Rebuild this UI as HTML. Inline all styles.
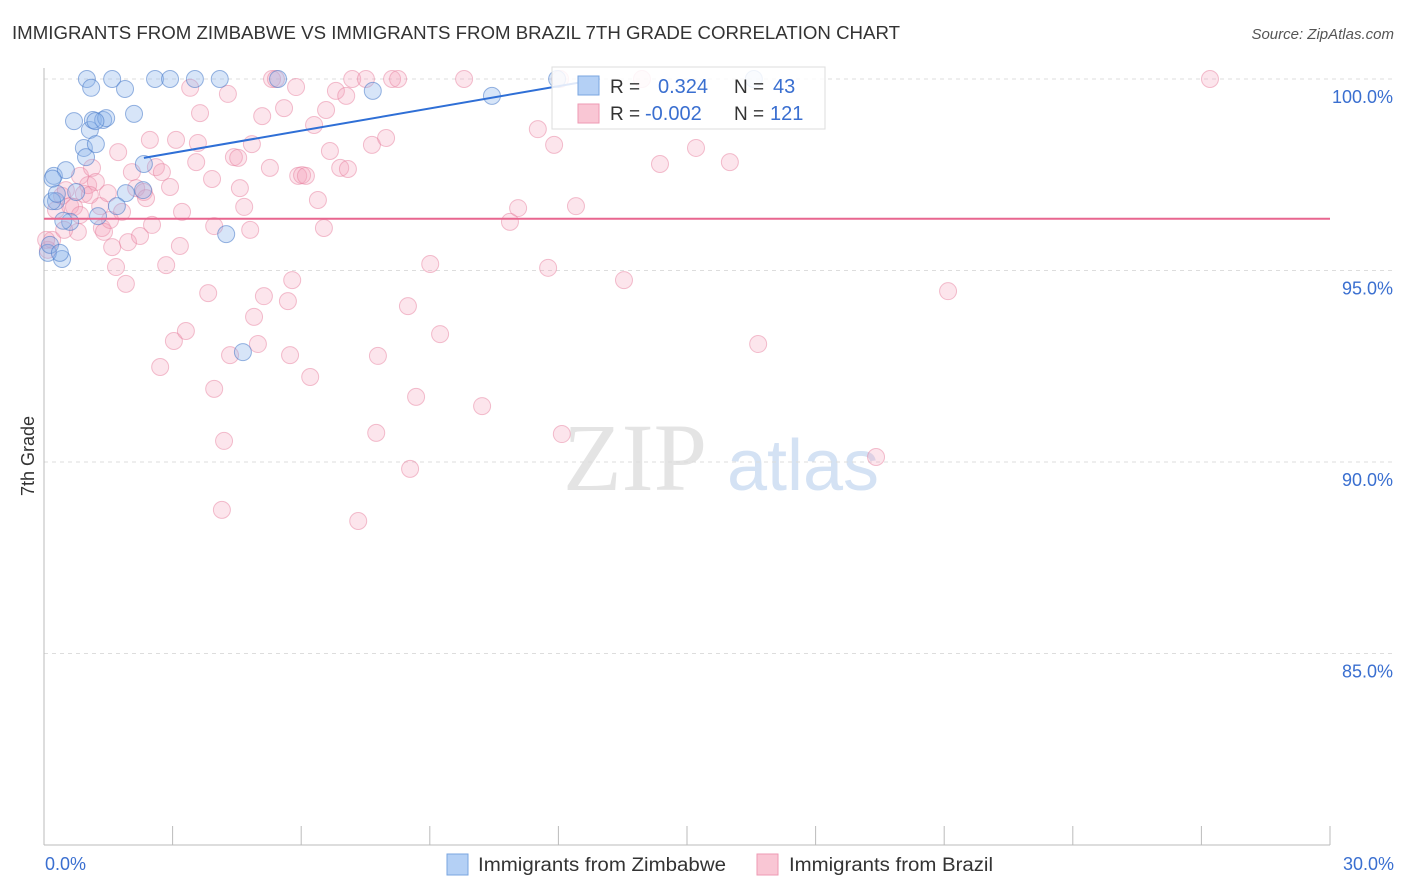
<!DOCTYPE html>
<html><head><meta charset="utf-8"><style>
body{margin:0;background:#fff;font-family:"Liberation Sans",sans-serif;}
svg{display:block}
</style></head><body>
<svg id="chart" width="1406" height="892">
<text x="12" y="39" font-size="18" fill="#333" textLength="888" lengthAdjust="spacingAndGlyphs">IMMIGRANTS FROM ZIMBABWE VS IMMIGRANTS FROM BRAZIL 7TH GRADE CORRELATION CHART</text>
<text x="1394" y="39" font-size="15" fill="#555" font-style="italic" text-anchor="end">Source: ZipAtlas.com</text>
<text x="34" y="456" font-size="18" fill="#333" transform="rotate(-90 34 456)" text-anchor="middle">7th Grade</text>
<g><text x="635" y="490" font-size="96" fill="#e4e4e4" font-family="Liberation Serif,serif" text-anchor="middle">ZIP</text><text x="803" y="490" font-size="72" fill="#d4e2f4" text-anchor="middle">atlas</text></g>
<g id="grid"></g><g id="axes"></g><g id="pts"></g><g id="lines"></g>
<g>
<rect x="552" y="67" width="273" height="62" fill="rgba(255,255,255,0.85)" stroke="#ddd"/>
<rect x="578" y="76" width="21" height="19" fill="#b4d0f5" stroke="#7aa6e0"/>
<rect x="578" y="104" width="21" height="19" fill="#f9c6d4" stroke="#ee9ab3"/>
<text x="610" y="93" font-size="19" fill="#333">R = </text><text x="658" y="93" font-size="20" fill="#3a6fd0">0.324</text>
<text x="734" y="93" font-size="19" fill="#333">N = </text><text x="773" y="93" font-size="20" fill="#3a6fd0">43</text>
<text x="610" y="120" font-size="19" fill="#333">R = </text><text x="645" y="120" font-size="20" fill="#3a6fd0">-0.002</text>
<text x="734" y="120" font-size="19" fill="#333">N = </text><text x="770" y="120" font-size="20" fill="#3a6fd0">121</text>
</g>
<g>
<rect x="447" y="854" width="21" height="21" fill="#b4d0f5" stroke="#7aa6e0"/>
<text x="478" y="871" font-size="19" fill="#333" textLength="248" lengthAdjust="spacingAndGlyphs">Immigrants from Zimbabwe</text>
<rect x="757" y="854" width="21" height="21" fill="#f9c6d4" stroke="#ee9ab3"/>
<text x="789" y="871" font-size="19" fill="#333" textLength="204" lengthAdjust="spacingAndGlyphs">Immigrants from Brazil</text>
</g>
</svg>
<script>
const yTicks=[100,95,90,85];
const xTickVals=[0,3,6,9,12,15,18,21,24,27,30];
const zimX=[0.23,0.28,0.42,0.51,0.61,0.70,0.75,0.93,0.98,1.0,1.07,1.1,1.14,1.21,1.26,1.38,1.45,1.59,1.89,1.91,2.1,2.33,2.31,1.7,2.59,2.94,3.52,4.1,4.25,4.64,5.46,7.67,10.45,11.97,16.56,0.09,0.14,0.19,0.37,0.3,0.2,1.2,0.45];
const zimY=[97.47,96.81,95.3,97.62,96.27,98.9,97.05,98.2,97.96,100,98.67,99.77,98.93,98.3,96.42,98.93,98.98,100,99.74,97.02,99.09,97.78,97.1,96.68,100,100,100,100,95.95,92.87,100,99.69,99.56,100,100,95.46,95.67,96.81,95.46,97.0,97.4,98.9,96.3];
const brX=[0.09,0.19,0.28,0.42,0.51,0.61,0.70,0.79,0.84,0.93,1.03,1.12,1.21,1.31,1.35,1.40,1.49,1.59,1.68,1.73,1.82,1.91,1.96,2.05,2.15,2.24,2.33,2.38,2.47,2.52,2.61,2.71,2.75,2.85,2.94,3.03,3.08,3.17,3.22,3.31,3.41,3.55,3.59,3.64,3.83,3.92,3.97,3.97,4.15,4.20,4.29,4.34,4.43,4.53,4.57,4.67,4.81,4.85,4.90,4.99,5.09,5.13,5.69,5.27,5.32,5.41,5.60,5.74,5.79,5.88,5.93,6.02,6.11,6.21,6.30,6.39,6.53,6.58,6.67,6.81,6.91,7.05,7.09,7.19,7.33,7.51,7.65,7.75,7.79,7.98,8.12,8.26,8.49,8.54,8.68,9.01,9.24,9.80,10.22,10.87,11.06,11.52,11.76,11.90,12.04,12.08,12.41,13.53,13.95,14.37,15.21,16.00,16.66,19.41,21.09,27.20,0.47,1.07,1.54,0.84,0.05];
const brY=[95.54,95.80,96.58,96.95,97.10,96.68,96.66,96.01,97.47,97.00,97.23,97.68,97.31,96.68,96.11,96.01,97.02,95.61,95.09,98.09,96.53,94.65,95.74,97.57,97.15,95.90,97.05,96.89,98.41,96.19,97.70,92.48,97.57,95.14,97.18,93.16,98.41,95.64,96.53,93.42,99.77,97.83,98.33,99.11,94.41,97.39,91.91,96.16,88.75,90.55,99.61,92.79,97.96,97.94,97.15,96.66,96.06,98.30,93.79,93.08,99.03,94.33,94.20,97.68,100,100,99.24,92.79,94.75,99.79,97.47,97.49,97.47,92.22,98.80,96.84,96.11,99.19,98.12,99.69,97.68,99.56,97.65,100,88.46,100,98.28,90.76,92.77,98.46,100,100,94.07,89.82,91.70,95.17,93.34,100,91.46,96.27,96.63,98.69,95.07,98.28,100,90.73,96.68,94.75,100,97.78,98.20,97.83,93.08,90.13,94.46,100,96.06,96.97,96.32,96.45,95.8];
const zimTrend=[2.33,97.94,12.97,100];
const brTrend=[0,96.35,30,96.35];
const NS='http://www.w3.org/2000/svg';
const X=v=>44+v/30*1286, Y=v=>79+(100-v)*38.3;
function mk(p,t,a){const e=document.createElementNS(NS,t);for(const k in a)e.setAttribute(k,a[k]);p.appendChild(e);return e;}
const grid=document.getElementById('grid'),axes=document.getElementById('axes'),pts=document.getElementById('pts'),lines=document.getElementById('lines');
yTicks.forEach(t=>{
 const l=mk(grid,'line',{x1:44,x2:1394,y1:Y(t),y2:Y(t),stroke:'#ddd','stroke-dasharray':'4 4'});
 
 
 const tx=mk(grid,'text',{x:1393,y:Y(t)+24,'font-size':18,fill:'#3a6fd0','text-anchor':'end'});
 tx.textContent=t.toFixed(1)+'%';
 
 
});
mk(axes,'line',{x1:44,x2:44,y1:68,y2:845,stroke:'#bbb'});
mk(axes,'line',{x1:44,x2:1330,y1:845,y2:845,stroke:'#bbb'});
xTickVals.forEach(t=>{
 const l=mk(axes,'line',{x1:X(t),x2:X(t),y1:826,y2:845,stroke:'#bbb'});
 
 
});
[[0,'start'],[30,'end']].forEach(([t,a])=>{
 const tx=mk(axes,'text',{x:t==0?45:1394,y:870,'font-size':18,fill:'#3a6fd0','text-anchor':a});
 tx.textContent=t.toFixed(1)+'%';
 
 
});
brX.forEach((x,i)=>{
 const c=mk(pts,'circle',{cx:X(x),cy:Y(brY[i]),r:8.5,fill:'rgba(244,160,185,0.28)',stroke:'rgba(232,130,160,0.5)','stroke-width':1});
 
 
});
zimX.forEach((x,i)=>{
 const c=mk(pts,'circle',{cx:X(x),cy:Y(zimY[i]),r:8.5,fill:'rgba(140,180,235,0.35)',stroke:'rgba(70,120,200,0.55)','stroke-width':1});
 
 
});
const l1=mk(lines,'line',{x1:X(zimTrend[0]),y1:Y(zimTrend[1]),x2:X(zimTrend[2]),y2:Y(zimTrend[3]),stroke:'#2f6fd6','stroke-width':2});


const l2=mk(lines,'line',{x1:X(brTrend[0]),y1:Y(brTrend[1]),x2:X(brTrend[2]),y2:Y(brTrend[3]),stroke:'#e8668f','stroke-width':2});


</script>
</body></html>
